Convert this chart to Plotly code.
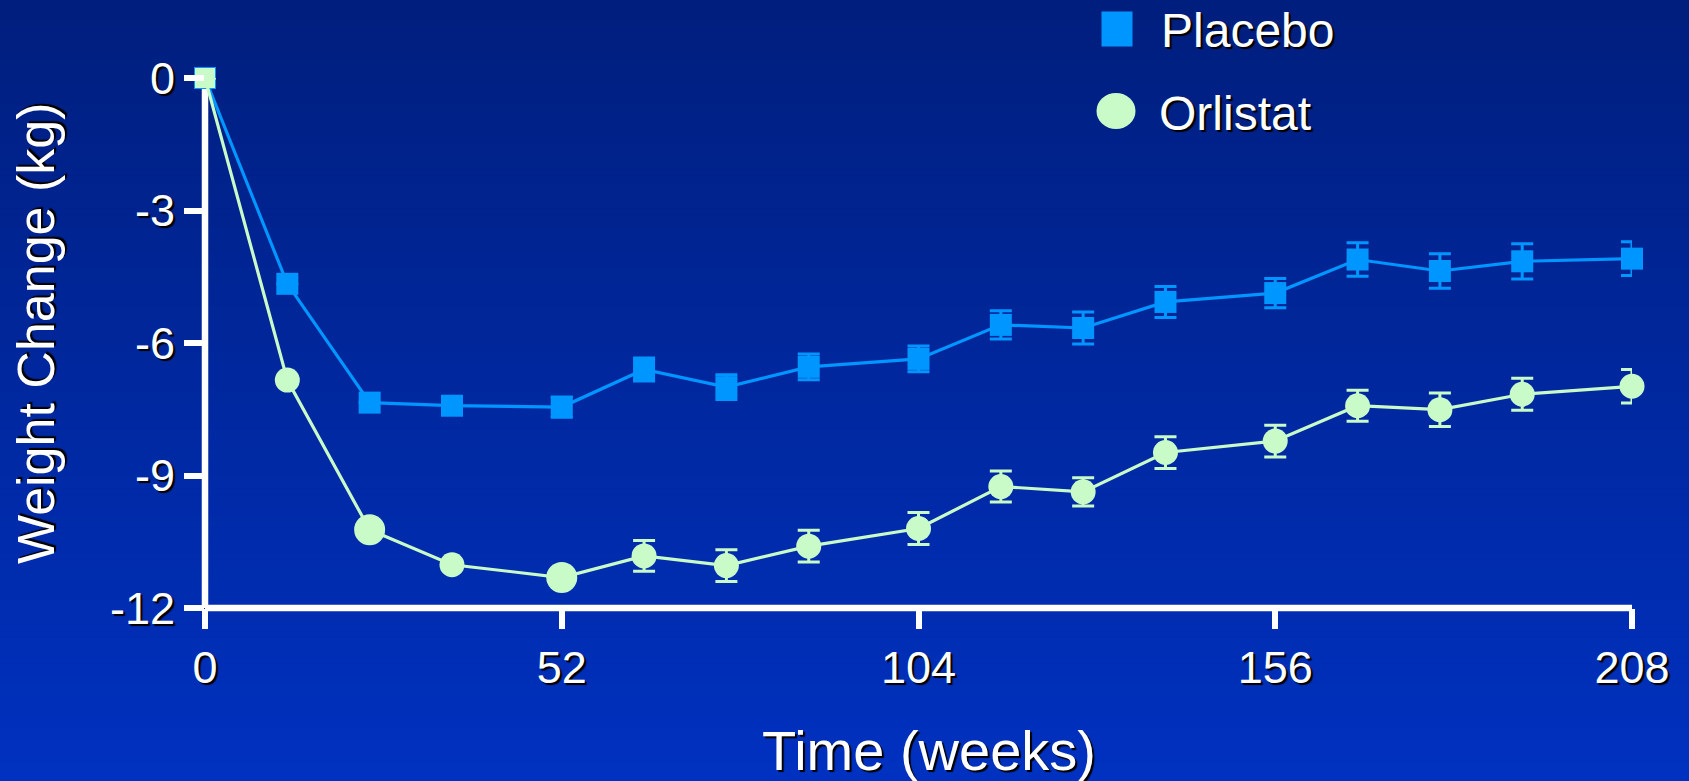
import plotly.graph_objects as go

# ---------------- data ----------------
weeks = [0, 12, 24, 36, 52, 64, 76, 88, 104, 116, 128, 140, 156, 168, 180, 192, 208]
placebo_mean = [0, -4.66, -7.35, -7.42, -7.45, -6.60, -7.00, -6.54, -6.36, -5.59,
                -5.66, -5.07, -4.87, -4.11, -4.37, -4.15, -4.09]
placebo_se = [0, 0, 0, 0, 0.23, 0.26, 0.28, 0.29, 0.29, 0.32,
              0.36, 0.35, 0.33, 0.38, 0.39, 0.40, 0.38]
orlistat_mean = [0, -6.84, -10.23, -11.02, -11.31, -10.82, -11.04, -10.60, -10.20, -9.25,
                 -9.37, -8.48, -8.22, -7.42, -7.51, -7.16, -6.98]
orlistat_se = [0, 0, 0, 0, 0, 0.35, 0.36, 0.36, 0.36, 0.35,
               0.32, 0.36, 0.36, 0.35, 0.38, 0.36, 0.38]
x_ticks = [0, 52, 104, 156, 208]
y_ticks = [0, -3, -6, -9, -12]
series_names = ["Placebo", "Orlistat"]

# ---------------- style ----------------
W, H = 1689, 781
ML, MR, MT, MB = 205, 57, 78, 173
PW, PH = W - ML - MR, H - MT - MB
PLACEBO_C = "#0096FF"
ORLISTAT_C = "#C8FBC8"
FONT = "Arial, Liberation Sans, sans-serif"
SHADOW = "2px 2px 1px #000000"
orl_sizes = [20, 25, 31, 25, 31] + [25] * 12
orl_symbols = ["square"] + ["circle"] * 16


def px2paper_x(px):
    return (px - ML) / PW


def px2paper_y(py):
    return (H - MB - py) / PH


fig = go.Figure()

# lines + error bars, then markers on top so error bars pass behind them
fig.add_trace(go.Scatter(
    x=weeks, y=placebo_mean, name=series_names[0], mode="lines",
    line=dict(color=PLACEBO_C, width=3.2),
    error_y=dict(type="data", array=placebo_se, color=PLACEBO_C, thickness=3, width=11),
    cliponaxis=False, showlegend=False, hoverinfo="skip",
))
fig.add_trace(go.Scatter(
    x=weeks, y=placebo_mean, name=series_names[0], mode="markers",
    marker=dict(symbol="square", size=22, color=PLACEBO_C, opacity=1, line=dict(width=0)),
    cliponaxis=False, showlegend=False,
))
fig.add_trace(go.Scatter(
    x=weeks, y=orlistat_mean, name=series_names[1], mode="lines",
    line=dict(color=ORLISTAT_C, width=3.2),
    error_y=dict(type="data", array=orlistat_se, color=ORLISTAT_C, thickness=3, width=11),
    cliponaxis=False, showlegend=False, hoverinfo="skip",
))
fig.add_trace(go.Scatter(
    x=weeks, y=orlistat_mean, name=series_names[1], mode="markers",
    marker=dict(symbol=orl_symbols, size=orl_sizes, color=ORLISTAT_C, opacity=1,
                line=dict(width=0)),
    cliponaxis=False, showlegend=False,
))

# background gradient (vertical) built from thin strips
shapes = []
top = (0, 30, 125)
bot = (0, 49, 192)
N = 120
for i in range(N):
    t = (i + 0.5) / N
    c = tuple(round(top[k] + (bot[k] - top[k]) * t) for k in range(3))
    y0 = H * i / N
    y1 = H * (i + 1) / N + 1
    shapes.append(dict(
        type="rect", xref="paper", yref="paper", layer="below",
        x0=px2paper_x(-2), x1=px2paper_x(W + 2),
        y0=px2paper_y(y1), y1=px2paper_y(y0),
        line=dict(width=0), fillcolor="rgb(%d,%d,%d)" % c,
    ))

# axis lines centred on the data range edges
AX_LW = 6.5
shapes.append(dict(type="line", xref="paper", yref="paper", layer="below",
                   x0=0, x1=0, y0=0, y1=1, line=dict(color="white", width=AX_LW)))
shapes.append(dict(type="line", xref="paper", yref="paper", layer="below",
                   x0=0, x1=1, y0=0, y1=0, line=dict(color="white", width=AX_LW)))

# legend (drawn manually so marker size matches)
shapes.append(dict(
    type="rect", xref="paper", yref="paper", xsizemode="pixel", ysizemode="pixel",
    xanchor=px2paper_x(1117), yanchor=px2paper_y(29),
    x0=-15.5, x1=15.5, y0=-17.5, y1=17.5,
    fillcolor=PLACEBO_C, line=dict(width=0),
))
shapes.append(dict(
    type="circle", xref="paper", yref="paper", xsizemode="pixel", ysizemode="pixel",
    xanchor=px2paper_x(1116), yanchor=px2paper_y(111),
    x0=-19.5, x1=19.5, y0=-18, y1=18,
    fillcolor=ORLISTAT_C, line=dict(width=0),
))

label_font = dict(family=FONT, size=48, color="white", shadow=SHADOW)
annotations = [
    dict(text=series_names[0], xref="paper", yref="paper", x=px2paper_x(1159), y=px2paper_y(30),
         xanchor="left", yanchor="middle", showarrow=False, font=label_font),
    dict(text=series_names[1], xref="paper", yref="paper", x=px2paper_x(1157), y=px2paper_y(113),
         xanchor="left", yanchor="middle", showarrow=False, font=label_font),
    dict(text="Time (weeks)", xref="paper", yref="paper", x=px2paper_x(929), y=px2paper_y(750),
         xanchor="center", yanchor="middle", showarrow=False,
         font=dict(family=FONT, size=56, color="white", shadow=SHADOW)),
    dict(text="Weight Change (kg)", xref="paper", yref="paper", x=px2paper_x(36), y=px2paper_y(333),
         xanchor="center", yanchor="middle", showarrow=False, textangle=-90,
         font=dict(family=FONT, size=52, color="white", shadow=SHADOW)),
]

tick_font = dict(family=FONT, size=45, color="white", shadow=SHADOW)
fig.update_layout(
    width=W, height=H,
    margin=dict(l=ML, r=MR, t=MT, b=MB, autoexpand=False),
    paper_bgcolor="rgb(0,40,160)", plot_bgcolor="rgba(0,0,0,0)",
    shapes=shapes, annotations=annotations,
    showlegend=False,
    xaxis=dict(range=[0, 208], tickvals=x_ticks, ticktext=[str(v) for v in x_ticks],
               showline=False,
               ticks="outside", ticklen=20, tickwidth=6, tickcolor="white",
               showgrid=False, zeroline=False, tickfont=tick_font, fixedrange=True),
    yaxis=dict(range=[-12, 0], tickvals=y_ticks, ticktext=[str(v) for v in y_ticks],
               showline=False,
               ticks="outside", ticklen=20, tickwidth=6, tickcolor="white",
               showgrid=False, zeroline=False, tickfont=tick_font, fixedrange=True),
)

fig.write_html("out.html")
